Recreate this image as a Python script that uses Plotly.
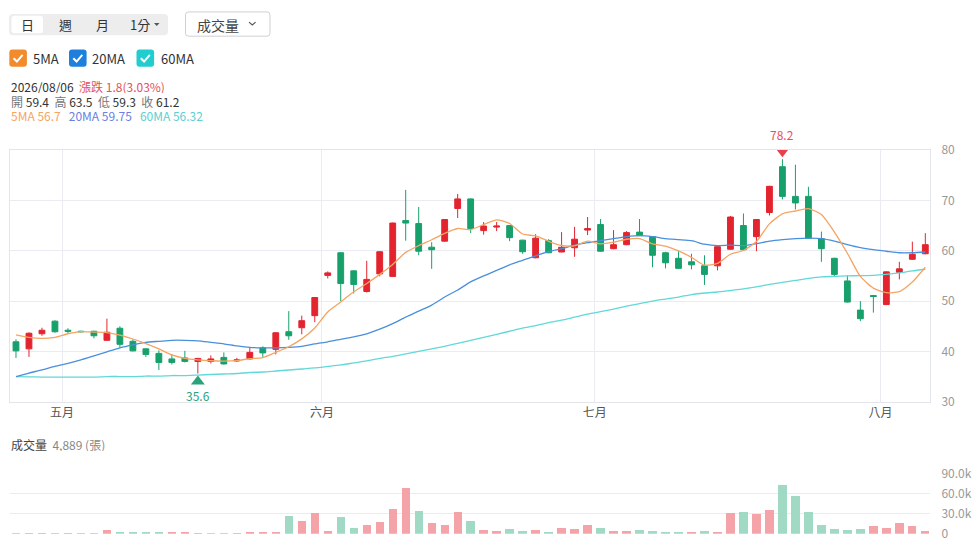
import plotly.graph_objects as go

W, H = 974, 558
FONT = "Noto Sans CJK TC"

# ---------------- data ----------------
idx = list(range(71))
month_labels = ["五月", "六月", "七月", "八月"]
month_start_idx = [4, 24, 45, 67]

opens = [41.9, 40.5, 43.5, 46.0, 44.2, 44.0, 44.0, 42.2, 44.6, 42.0,
         40.5, 39.6, 38.5, 38.7, 38.0, 38.0, 38.8, 38.1, 38.5, 40.7,
         40.4, 43.9, 44.7, 47.1, 55.1, 59.6, 56.0, 51.9, 55.4, 54.9,
         66.0, 65.4, 60.7, 61.9, 68.4, 70.3, 64.0, 64.7, 65.0, 62.1,
         58.6, 62.0, 59.75, 60.6, 64.1, 65.2, 60.4, 61.2, 63.7, 62.8,
         59.6, 58.5, 57.8, 57.0, 57.0, 60.3, 65.0, 62.8, 67.6, 76.7,
         70.8, 70.8, 62.4, 58.5, 54.0, 48.2, 51.1, 49.3, 55.7, 58.3, 59.4]
highs = [42.4, 43.8, 44.7, 46.2, 44.6, 44.1, 44.1, 46.5, 45.0, 42.4,
         40.6, 40.2, 39.4, 40.1, 38.7, 39.2, 39.8, 38.7, 40.7, 41.0,
         43.8, 48.0, 47.1, 50.8, 55.9, 59.7, 56.1, 58.0, 59.9, 65.6,
         72.1, 68.7, 61.7, 66.3, 71.3, 70.4, 65.7, 65.7, 65.1, 62.2,
         63.3, 62.3, 63.7, 64.75, 66.7, 66.3, 64.1, 63.9, 66.3, 62.9,
         59.8, 59.9, 59.4, 59.1, 60.9, 66.9, 67.4, 66.3, 72.9, 78.2,
         77.1, 72.7, 63.8, 58.6, 55.1, 50.0, 51.2, 55.9, 57.8, 61.8, 63.5]
lows = [38.7, 38.9, 43.1, 43.7, 43.6, 43.8, 42.6, 42.1, 40.7, 40.0,
        38.9, 36.3, 37.4, 37.8, 35.6, 37.6, 37.4, 37.9, 38.4, 38.9,
        39.4, 42.3, 43.4, 45.8, 54.5, 50.0, 51.5, 51.7, 54.9, 54.8,
        62.0, 59.1, 56.4, 61.8, 66.5, 63.5, 63.2, 63.9, 61.9, 59.4,
        58.5, 59.5, 59.7, 58.8, 63.1, 59.8, 60.3, 61.1, 62.9, 56.7,
        56.5, 56.4, 56.3, 53.2, 56.1, 60.2, 60.1, 59.9, 67.0, 70.2,
        68.2, 62.4, 57.8, 54.8, 49.7, 46.0, 47.7, 49.2, 54.3, 58.2, 59.3]
closes = [40.1, 43.6, 44.2, 43.9, 44.0, 43.9, 43.1, 43.8, 41.4, 40.1,
          39.4, 37.8, 37.8, 38.0, 38.6, 38.5, 37.5, 38.3, 39.8, 39.7,
          43.7, 43.1, 46.1, 50.7, 55.6, 53.5, 53.3, 54.3, 59.8, 65.5,
          65.5, 59.9, 60.2, 66.2, 70.3, 64.4, 64.9, 64.9, 62.6, 59.8,
          62.5, 59.6, 60.7, 62.3, 64.4, 59.9, 61.2, 63.6, 63.0, 59.1,
          57.6, 56.5, 57.2, 55.3, 60.8, 66.7, 60.2, 66.2, 72.8, 70.8,
          69.5, 62.5, 60.4, 55.3, 49.8, 46.5, 50.9, 55.8, 56.4, 59.3, 61.2]

ma5 = [43.3, 42.8, 42.6, 42.8, 43.5, 43.92, 43.82, 43.74, 43.24, 42.46,
       41.56, 40.50, 39.30, 38.62, 38.32, 38.14, 38.08, 38.18, 38.54, 38.76,
       39.80, 40.92, 42.48, 44.66, 47.84, 49.80, 51.84, 53.48, 55.30, 57.28,
       59.68, 61.00, 62.18, 63.46, 64.42, 64.20, 65.20, 66.14, 65.42, 63.32,
       62.94, 61.88, 61.04, 60.98, 61.90, 61.38, 61.70, 62.28, 62.42, 61.36,
       60.90, 59.96, 58.68, 57.14, 57.48, 59.30, 60.04, 61.84, 65.34, 67.34,
       67.90, 68.36, 67.20, 63.70, 59.50, 54.90, 52.58, 51.66, 51.88, 53.78, 56.72]
ma20 = [35.0, 35.7, 36.3, 37.0, 37.6, 38.3, 39.1, 39.9, 40.7, 41.3,
        41.8, 42.0, 42.2, 42.2, 42.1, 41.8, 41.5, 41.1, 40.8, 40.7,
        40.7, 40.8, 41.0, 41.5, 41.9, 42.4, 42.9, 43.5, 44.4, 45.5,
        46.8, 48.0, 49.2, 50.8, 52.2, 53.8, 55.0, 56.1, 57.2, 58.1,
        59.0, 59.8, 60.4, 61.1, 61.6, 62.0, 62.4, 62.8, 63.0, 62.8,
        62.4, 62.2, 62.0, 61.3, 61.0, 61.1, 61.0, 61.4, 61.9, 62.2,
        62.4, 62.5, 62.4, 61.9, 61.2, 60.6, 60.2, 59.9, 59.6, 59.6, 59.75]
ma60 = [35.0, 34.95, 34.9, 34.9, 34.9, 34.9, 34.9, 35.0, 35.0, 35.0,
        35.1, 35.1, 35.2, 35.2, 35.3, 35.4, 35.5, 35.6, 35.8, 35.9,
        36.1, 36.3, 36.5, 36.7, 37.0, 37.3, 37.7, 38.1, 38.6, 39.0,
        39.5, 40.0, 40.5, 41.0, 41.6, 42.2, 42.8, 43.4, 44.0, 44.6,
        45.1, 45.7, 46.2, 46.8, 47.4, 47.9, 48.4, 49.0, 49.5, 50.0,
        50.4, 50.8, 51.3, 51.6, 51.8, 52.1, 52.4, 52.8, 53.3, 53.7,
        54.1, 54.5, 54.8, 54.9, 55.0, 55.05, 55.1, 55.3, 55.6, 56.0, 56.32]

volumes = [1900, 1900, 1900, 1500, 1500, 1500, 1900, 5800, 3900, 3400,
           3900, 3900, 2900, 2900, 2400, 1900, 2400, 1900, 3400, 3400,
           3900, 26600, 19800, 31000, 4800, 26100, 9200, 13100, 17900, 37800,
           68700, 34800, 16900, 13100, 32400, 19400, 6800, 4800, 7700, 5300,
           5800, 3400, 8700, 7300, 14000, 8700, 5300, 5300, 6300, 5300,
           2900, 2900, 2900, 4800, 3900, 31900, 32400, 29500, 36800, 73600,
           57100, 32400, 13100, 7300, 5800, 7700, 12100, 9700, 16500, 12100, 4889]
vol_up = [0, 1, 1, 0, 1, 0, 0, 1, 0, 0,
          0, 0, 1, 1, 1, 0, 0, 1, 1, 1,
          1, 0, 1, 1, 1, 0, 0, 1, 1, 1,
          1, 0, 1, 1, 1, 0, 1, 1, 0, 0,
          1, 0, 1, 1, 1, 0, 1, 1, 0, 0,
          0, 0, 1, 0, 1, 1, 0, 1, 1, 0,
          0, 0, 0, 0, 0, 0, 1, 1, 1, 1, 1]

price_ticks = [30, 40, 50, 60, 70, 80]
vol_ticks = [0, 30000, 60000, 90000]
vol_ticktext = ["0", "30.0k", "60.0k", "90.0k"]

# ---------------- styles ----------------
RED = "#e3242f"
GREEN = "#17a06c"
VOL_RED = "#f4a3a8"
VOL_GREEN = "#a0d9c4"
C5, C20, C60 = "#f5a462", "#4a8fdc", "#62d8d8"
GRID = "#ebebf3"


def px(x):
    return x / W


def py(y):
    return 1 - y / H


fig = go.Figure()

fig.add_trace(go.Candlestick(
    x=idx, open=opens, high=highs, low=lows, close=closes,
    increasing=dict(line=dict(color=RED, width=1), fillcolor=RED),
    decreasing=dict(line=dict(color=GREEN, width=1), fillcolor=GREEN),
    whiskerwidth=0, xaxis="x", yaxis="y", hoverinfo="skip"))

for vals, col in [(ma60, C60), (ma20, C20), (ma5, C5)]:
    fig.add_trace(go.Scatter(x=idx, y=vals, mode="lines",
                             line=dict(color=col, width=1.3, shape="spline", smoothing=0.6),
                             xaxis="x", yaxis="y", hoverinfo="skip"))

fig.add_trace(go.Bar(x=idx, y=volumes,
                     marker=dict(color=[VOL_RED if u else VOL_GREEN for u in vol_up], line=dict(width=0)),
                     width=0.64, xaxis="x2", yaxis="y2", hoverinfo="skip"))

# high / low markers
hi_i = max(idx, key=lambda i: highs[i])
lo_i = min(idx, key=lambda i: lows[i])
shapes = [
    dict(type="path", xref="x", yref="y", xsizemode="pixel", ysizemode="pixel",
         xanchor=hi_i, yanchor=highs[hi_i], path="M -7,11 L 7,11 L 0,2 Z",
         fillcolor="#e8404c", line=dict(width=0)),
    dict(type="path", xref="x", yref="y", xsizemode="pixel", ysizemode="pixel",
         xanchor=lo_i, yanchor=lows[lo_i], path="M -7,-11 L 7,-11 L 0,-2 Z",
         fillcolor="#2aa37c", line=dict(width=0)),
]
annotations = [
    dict(x=hi_i, y=highs[hi_i], xref="x", yref="y", text=f"{highs[hi_i]:.1f}", showarrow=False,
         yshift=25, font=dict(family=FONT, size=12, color="#e8505a")),
    dict(x=lo_i, y=lows[lo_i], xref="x", yref="y", text=f"{lows[lo_i]:.1f}", showarrow=False,
         yshift=-22, font=dict(family=FONT, size=12, color="#2aa37c")),
]


def rrect(x0, y0, x1, y1, r):
    pts = [("M", x0 + r, y0), ("L", x1 - r, y0), ("Q", x1, y0, x1, y0 + r), ("L", x1, y1 - r),
           ("Q", x1, y1, x1 - r, y1), ("L", x0 + r, y1), ("Q", x0, y1, x0, y1 - r),
           ("L", x0, y0 + r), ("Q", x0, y0, x0 + r, y0)]
    s = ""
    for p in pts:
        if p[0] == "Q":
            s += f"Q {px(p[1]):.5f},{py(p[2]):.5f} {px(p[3]):.5f},{py(p[4]):.5f} "
        else:
            s += f"{p[0]} {px(p[1]):.5f},{py(p[2]):.5f} "
    return s + "Z"


def poly(points, close=False):
    s = " ".join(("M" if k == 0 else "L") + f" {px(x):.5f},{py(y):.5f}" for k, (x, y) in enumerate(points))
    return s + (" Z" if close else "")


# segmented control
shapes.append(dict(type="path", xref="paper", yref="paper", path=rrect(9, 4, 168, 26, 4),
                   fillcolor="#ededee", line=dict(width=0), layer="below"))
shapes.append(dict(type="path", xref="paper", yref="paper", path=rrect(11.5, 6, 43, 24, 3),
                   fillcolor="#ffffff", line=dict(width=0), layer="below"))
shapes.append(dict(type="path", xref="paper", yref="paper", path=poly([(154, 13.5), (159.5, 13.5), (156.75, 16.5)], True),
                   fillcolor="#555", line=dict(width=0)))
# volume dropdown button
shapes.append(dict(type="path", xref="paper", yref="paper", path=rrect(185.5, 2, 270, 27, 3),
                   fillcolor="#ffffff", line=dict(color="#d0d0d4", width=1), layer="below"))
shapes.append(dict(type="path", xref="paper", yref="paper", path=poly([(249, 12.5), (252.3, 15.5), (255.6, 12.5)]),
                   line=dict(color="#555", width=1.2)))

for txt, x in [("日", 27.3), ("週", 65), ("月", 102.7), ("1分", 140)]:
    annotations.append(dict(x=px(x), y=py(15), xref="paper", yref="paper", text=txt, showarrow=False,
                            xanchor="center", yanchor="middle", font=dict(family=FONT, size=13, color="#333")))
annotations.append(dict(x=px(217.5), y=py(15), xref="paper", yref="paper", text="成交量", showarrow=False,
                        xanchor="center", yanchor="middle", font=dict(family=FONT, size=14, color="#444")))

# MA checkboxes
for bx, col, lab, lx in [(9.3, "#f28b2c", "5MA", 31), (69, "#1e80dc", "20MA", 90), (136.5, "#22cdd0", "60MA", 158.5)]:
    shapes.append(dict(type="path", xref="paper", yref="paper", path=rrect(bx, 40.7, bx + 17.6, 58.5, 3),
                       fillcolor=col, line=dict(width=0)))
    shapes.append(dict(type="path", xref="paper", yref="paper",
                       path=poly([(bx + 4.3, 49.8), (bx + 7.6, 53.2), (bx + 13.3, 46.3)]),
                       line=dict(color="white", width=2)))
    annotations.append(dict(x=px(lx), y=py(50), xref="paper", yref="paper", text=lab, showarrow=False,
                            xanchor="left", yanchor="middle", font=dict(family=FONT, size=13, color="#333")))

# info lines
info = [
    (78, "<span style='color:#333'>2026/08/06</span>&nbsp;&nbsp;<span style='color:#e5505a'>漲跌 1.8(3.03%)</span>"),
    (93.5, "<span style='color:#777'>開</span> <span style='color:#333'>59.4</span>&nbsp;&nbsp;"
           "<span style='color:#777'>高</span> <span style='color:#333'>63.5</span>&nbsp;&nbsp;"
           "<span style='color:#777'>低</span> <span style='color:#333'>59.3</span>&nbsp;&nbsp;"
           "<span style='color:#777'>收</span> <span style='color:#333'>61.2</span>"),
    (108.5, f"<span style='color:{C5}'>5MA 56.7</span>&nbsp;&nbsp;&nbsp;<span style='color:#6a80e2'>20MA 59.75</span>"
            f"&nbsp;&nbsp;&nbsp;<span style='color:#5ccfd2'>60MA 56.32</span>"),
    (448, "<span style='color:#444'>成交量</span>&nbsp;&nbsp;<span style='color:#888'>4,889 (張)</span>"),
]
for y, txt in info:
    annotations.append(dict(x=px(8.5), y=py(y), xref="paper", yref="paper", text=txt, showarrow=False,
                            xanchor="left", yanchor="middle", height=14,
                            font=dict(family=FONT, size=12, color="#333")))

xr = [-0.46, 70.36]
xdom = [px(10), px(930)]
month_ticks = [m - 0.45 for m in month_start_idx]

fig.update_layout(
    width=W, height=H, autosize=False, margin=dict(l=0, r=0, t=0, b=0),
    paper_bgcolor="white", plot_bgcolor="white", showlegend=False,
    font=dict(family=FONT), bargap=0, boxgap=0.36,
    shapes=shapes, annotations=annotations,
    xaxis=dict(domain=xdom, range=xr, anchor="y", tickvals=month_ticks, ticktext=month_labels,
               showgrid=True, gridcolor=GRID, showline=True, mirror=True, linecolor="#e4e4ec",
               zeroline=False, ticks="", tickfont=dict(size=12, color="#555"),
               rangeslider=dict(visible=False), fixedrange=True),
    yaxis=dict(domain=[py(404), py(144.5)], range=[30, 80], side="right", tickvals=price_ticks,
               showgrid=True, gridcolor=GRID, showline=True, mirror=True, linecolor="#e4e4ec",
               zeroline=False, ticks="outside", ticklen=8, tickcolor="rgba(0,0,0,0)",
               tickfont=dict(size=12, color="#999"), fixedrange=True),
    xaxis2=dict(domain=xdom, range=xr, anchor="y2", showticklabels=False, showgrid=False,
                zeroline=False, showline=False, fixedrange=True),
    yaxis2=dict(domain=[py(540.3), py(478.3)], range=[0, 90000], side="right", tickvals=vol_ticks,
                ticktext=vol_ticktext, showgrid=True, gridcolor=GRID, zeroline=False, showline=False,
                ticks="outside", ticklen=8, tickcolor="rgba(0,0,0,0)",
                tickfont=dict(size=12, color="#999"), fixedrange=True),
)

fig.write_html("out.html", config={"displayModeBar": False, "responsive": False},
               post_script="document.body.style.margin='0';document.body.style.overflow='hidden';")
